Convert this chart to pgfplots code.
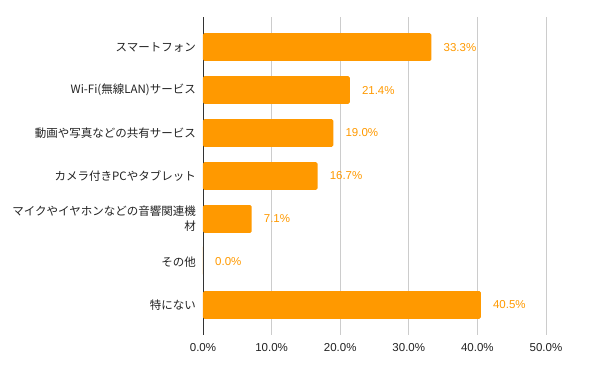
\documentclass[border=0pt]{standalone}
\usepackage{pgfplots}
\pgfplotsset{compat=1.18}
\usepackage{fontspec}
\setmainfont{Liberation Sans}
\newfontfamily\jp{Noto Sans CJK JP}
\definecolor{barc}{HTML}{FF9900}
\definecolor{gridc}{HTML}{CCCCCC}
\definecolor{txt}{HTML}{222222}
\definecolor{axc}{HTML}{333333}
\begin{document}
\begin{tikzpicture}[x=1pt,y=1pt]
\begin{axis}[
  at={(203pt,36pt)}, anchor=south west,
  scale only axis, width=343pt, height=318pt,
  xmin=0, xmax=50, ymin=-0.7, ymax=6.7, y dir=reverse,
  xbar, bar width=27.7pt,
  axis x line=bottom, axis y line=left,
  x axis line style={draw=none},
  y axis line style={draw=axc, line width=0.8pt, -},
  major tick length=0pt,
  xtick={0,10,20,30,40,50},
  xticklabels={0.0\%,10.0\%,20.0\%,30.0\%,40.0\%,50.0\%},
  xmajorgrids, grid style={gridc, line width=0.8pt},
  xticklabel style={font=\fontsize{11.5}{13}\selectfont, color=txt, anchor=center, yshift=-13pt},
  ytick={0,1,2,3,4,5,6},
  yticklabels={スマートフォン,Wi-Fi(無線LAN)サービス,動画や写真などの共有サービス,カメラ付きPCやタブレット,{マイクやイヤホンなどの音響関連機\\材},その他,特にない},
  yticklabel style={font=\jp\fontsize{11.5}{15}\selectfont, color=txt, align=right, inner sep=0pt, xshift=-7pt},
  nodes near coords={\pgfmathprintnumber[fixed, fixed zerofill, precision=1]{\pgfplotspointmeta}\%},
  nodes near coords style={font=\fontsize{11.5}{13}\selectfont, color=barc, anchor=west, inner sep=0pt, xshift=12pt},
  /pgf/number format/assume math mode=true,
  clip=false,
]
\addplot[draw=none, fill=barc, rounded corners=1.5pt] coordinates {
(33.3,0) (21.4,1) (19.0,2) (16.7,3) (7.1,4) (0.0,5) (40.5,6)
};
\end{axis}
\pgfresetboundingbox
\path[use as bounding box] (0,0) rectangle (600,371);
\end{tikzpicture}
\end{document}
